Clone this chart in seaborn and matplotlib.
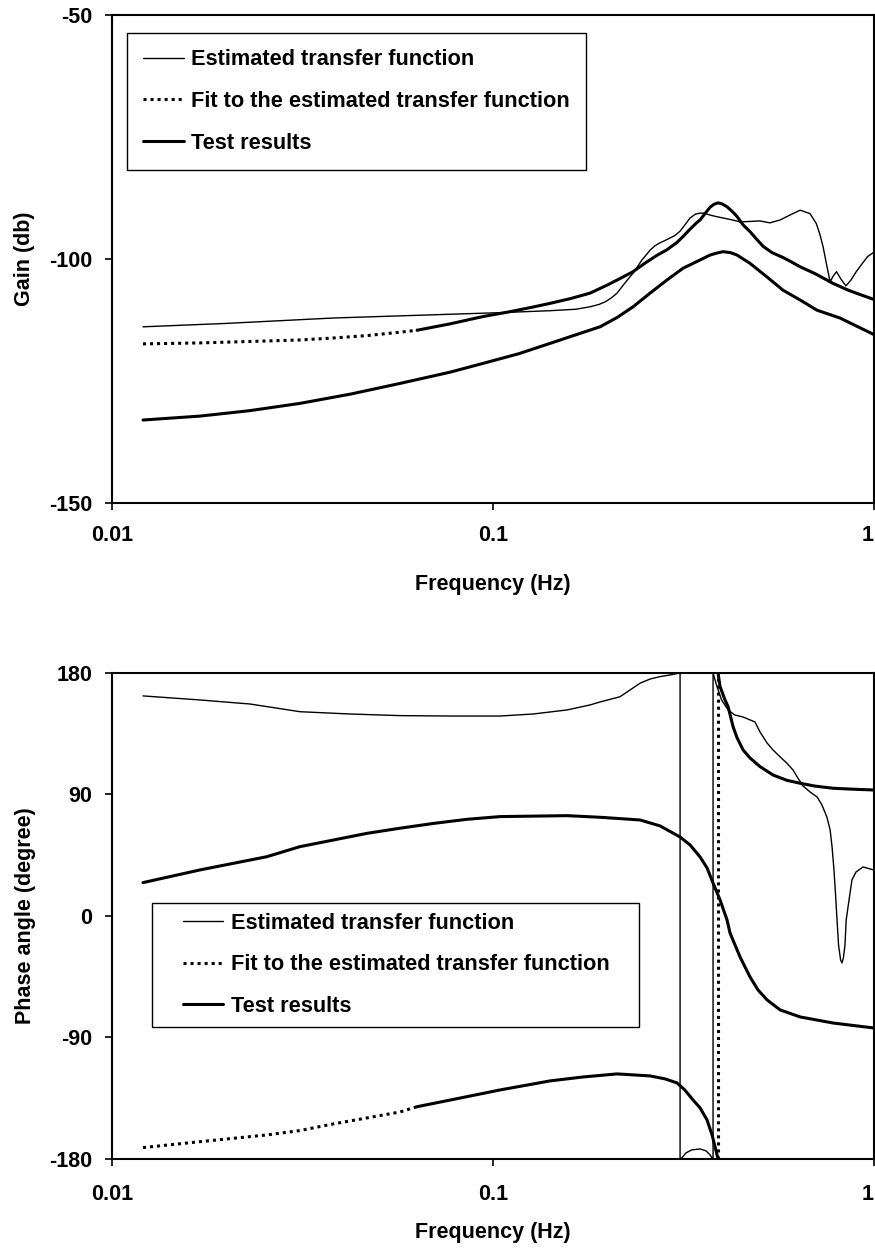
import matplotlib
matplotlib.use("Agg")
import matplotlib.pyplot as plt
from matplotlib.lines import Line2D
from matplotlib.legend_handler import HandlerLine2D
import seaborn as sns

# ---------------- Gain (dB) ----------------
gain_est_freq = [0.01206, 0.0200, 0.0380, 0.0600, 0.1043, 0.1411, 0.1650, 0.1797,
                 0.1900, 0.1980, 0.2050, 0.2116, 0.2220, 0.2331, 0.2460, 0.2583,
                 0.2660, 0.2740, 0.2830, 0.2915, 0.3000, 0.3097, 0.3190, 0.3289,
                 0.3400, 0.3495, 0.3580, 0.3712, 0.3850, 0.4016, 0.4250, 0.4450,
                 0.4750, 0.5020, 0.5330, 0.5670, 0.6050, 0.6400, 0.6790, 0.7050,
                 0.7200, 0.7350, 0.7500, 0.7670, 0.7800, 0.7970, 0.8200, 0.8440,
                 0.8700, 0.8980, 0.9300, 0.9620, 1.0]
gain_est_db = [-113.9, -113.2, -112.1, -111.6, -111.0, -110.6, -110.3, -109.8,
               -109.3, -108.7, -107.9, -107.0, -104.9, -102.9, -100.2, -98.2,
               -97.3, -96.7, -96.2, -95.7, -95.2, -94.3, -93.0, -91.6,
               -90.8, -90.6, -90.6, -91.0, -91.3, -91.6, -92.0, -92.4,
               -92.3, -92.2, -92.6, -92.0, -90.9, -90.0, -90.7, -92.7,
               -94.8, -97.5, -101.0, -104.7, -103.6, -102.6, -104.2, -105.5,
               -104.3, -102.6, -101.0, -99.5, -98.6]

gain_fit_freq = [0.01206, 0.0170, 0.0255, 0.0311, 0.0380, 0.0467, 0.0570, 0.0632,
                 0.0771, 0.0941, 0.1108, 0.1264, 0.1411, 0.1600, 0.1797, 0.2000,
                 0.2155, 0.2331, 0.2500, 0.2700, 0.2862, 0.3041, 0.3153, 0.3289,
                 0.3420, 0.3495, 0.3600, 0.3712, 0.3800, 0.3896, 0.3990, 0.4114,
                 0.4250, 0.4370, 0.4532, 0.4727, 0.4900, 0.5114, 0.5400, 0.5770,
                 0.6100, 0.6396, 0.7000, 0.7805, 0.8500, 0.9200, 1.0]
gain_fit_db = [-117.4, -117.2, -116.8, -116.6, -116.2, -115.7, -115.0, -114.6,
               -113.3, -111.8, -110.8, -109.9, -109.1, -108.1, -107.0, -105.3,
               -104.0, -102.6, -100.9, -99.2, -98.1, -96.6, -95.4, -93.9,
               -92.6, -92.0, -90.7, -89.4, -88.8, -88.5, -88.7, -89.3,
               -90.3, -91.3, -93.0, -94.4, -95.8, -97.4, -98.7, -99.7,
               -100.7, -101.6, -103.0, -105.0, -106.3, -107.3, -108.3]

gain_test_freq = [0.01206, 0.0170, 0.0229, 0.0311, 0.0422, 0.0570, 0.0771, 0.0941,
                  0.1170, 0.1411, 0.1640, 0.1909, 0.2116, 0.2331, 0.2583, 0.2862,
                  0.3153, 0.3350, 0.3495, 0.3712, 0.3860, 0.4016, 0.4200, 0.4370,
                  0.4727, 0.5240, 0.5770, 0.6396, 0.7087, 0.8140, 0.9761, 1.0]
gain_test_db = [-133.0, -132.2, -131.1, -129.6, -127.7, -125.5, -123.2, -121.4,
                -119.4, -117.3, -115.6, -113.9, -112.0, -109.8, -107.0, -104.3,
                -101.9, -100.9, -100.2, -99.2, -98.8, -98.5, -98.7, -99.2,
                -100.9, -103.7, -106.4, -108.4, -110.5, -112.1, -115.1, -115.5]

# ---------------- Phase (degree) ----------------
phase_est_freq = [0.01206, 0.01702, 0.02302, 0.03114, 0.04213, 0.0570, 0.07713, 0.1043,
                  0.1274, 0.1564, 0.1797, 0.1909, 0.2155, 0.2289, 0.2431, 0.2583,
                  0.2744, 0.2915, 0.3097, 0.3097, 0.3134, 0.3209, 0.3323, 0.3495,
                  0.3622, 0.3712, 0.3757, 0.3780, 0.3780, 0.3860, 0.3980, 0.4140,
                  0.4306, 0.4530, 0.4870, 0.5020, 0.5240, 0.5430, 0.5670, 0.5900,
                  0.6130, 0.6310, 0.6510, 0.6790, 0.7090, 0.7300, 0.7520, 0.7670,
                  0.7760, 0.7850, 0.7920, 0.7996, 0.8070, 0.8170, 0.8240, 0.8310,
                  0.8390, 0.8450, 0.8600, 0.8750, 0.8970, 0.9360, 1.0]
phase_est_deg = [163, 160, 157, 151.3, 149.6, 148.4, 148.1, 148.1,
                 149.6, 152.6, 156.3, 158.5, 162.4, 167.4, 172.4, 175.5,
                 177.3, 178.5, 180, -180, -179, -175.5, -173.3, -172.6,
                 -174, -177, -179.3, -180, 180, 171, 160, 152.6,
                 148.9, 147.4, 143.7, 136.3, 128.1, 123, 117.8, 113.3,
                 108.1, 102.2, 96.3, 91.9, 88.1, 82.2, 73.3, 63.7,
                 51.1, 34, 17, -3, -21.5, -32.6, -34.8, -31,
                 -21.5, -3, 12, 26.7, 32.6, 36.3, 34]

phase_fit_freq = [0.01206, 0.01702, 0.0255, 0.0311, 0.0380, 0.0467, 0.0570, 0.0632,
                  0.0771, 0.1043, 0.1411, 0.1720, 0.2116, 0.2583, 0.2830, 0.3041,
                  0.3187, 0.3349, 0.3495, 0.3645, 0.3757, 0.3826, 0.3896, 0.3896,
                  0.3943, 0.4063, 0.4140, 0.4266, 0.4370, 0.4532, 0.4727, 0.5022,
                  0.5432, 0.5900, 0.6396, 0.7000, 0.7805, 0.8800, 1.0]
phase_fit_deg = [-171.6, -167.2, -162.2, -159, -154.1, -149.6, -145.2, -141.3,
                 -136.4, -128.9, -122.2, -119.3, -117, -118.5, -120.7, -123.7,
                 -128.9, -136.3, -142.2, -151.1, -162.2, -171, -180, 180,
                 170, 160, 155, 140.2, 132, 123, 117, 110.6,
                 104.4, 100.5, 98.3, 96.2, 94.6, 93.9, 93.3]

phase_test_freq = [0.01206, 0.01702, 0.0255, 0.0311, 0.0467, 0.0570, 0.0700, 0.0855,
                   0.1043, 0.1564, 0.1909, 0.2431, 0.2744, 0.3097, 0.3290, 0.3495,
                   0.3645, 0.3780, 0.3943, 0.4114, 0.4188, 0.4450, 0.4727, 0.4960,
                   0.5240, 0.5670, 0.6396, 0.7805, 1.0]
phase_test_deg = [24.7, 34.1, 43.9, 51.3, 61.2, 65, 68.6, 71.6,
                  73.6, 74.3, 73.1, 71.1, 66.7, 58.5, 52.6, 43.7,
                  35.6, 24.4, 11.9, -3, -12.6, -30.4, -45.2, -54.8,
                  -62.2, -69.6, -74.8, -79.3, -83]

series_labels = ["Estimated transfer function",
                 "Fit to the estimated transfer function",
                 "Test results"]

# ---------------- styling ----------------
FS = 15.5
sns.set_theme(style="ticks")
plt.rcParams.update({
    "font.family": ["Liberation Sans", "DejaVu Sans"],
    "font.weight": "bold",
    "font.size": FS,
    "text.color": "black",
    "axes.labelcolor": "black",
    "axes.labelweight": "bold",
    "axes.labelsize": FS,
    "xtick.labelsize": FS,
    "ytick.labelsize": FS,
    "legend.fontsize": 15.7,
    "axes.linewidth": 1.5,
    "axes.edgecolor": "black",
    "xtick.color": "black",
    "ytick.color": "black",
    "xtick.major.width": 1.2,
    "ytick.major.width": 1.2,
    "xtick.major.size": 5,
    "ytick.major.size": 5,
    "ytick.major.pad": 9,
})

THIN = 1.0
THICK = 2.2
DOTS = (0, (1, 1.3))
FIT_SOLID_FROM = 0.064   # the fit trace reads as solid above this frequency


def draw_fit(ax, freq, vals):
    """Fit trace: dotted on the sparse low-frequency part and on wrap jumps,
    solid elsewhere."""
    kinds = []
    for i in range(len(freq) - 1):
        kinds.append(freq[i + 1] <= FIT_SOLID_FROM or freq[i + 1] == freq[i])
    start = 0
    for i in range(1, len(kinds) + 1):
        if i == len(kinds) or kinds[i] != kinds[start]:
            ls = DOTS if kinds[start] else "-"
            sns.lineplot(x=freq[start:i + 1], y=vals[start:i + 1], ax=ax,
                         color="black", lw=THICK, linestyle=ls,
                         estimator=None, sort=False, legend=False)
            start = i


def draw_line(ax, freq, vals, lw):
    sns.lineplot(x=freq, y=vals, ax=ax, color="black", lw=lw,
                 estimator=None, sort=False, legend=False)


def legend_handles():
    return [Line2D([], [], color="black", lw=THIN),
            Line2D([], [], color="black", lw=THICK, linestyle=DOTS),
            Line2D([], [], color="black", lw=THICK)]


def style_axes(ax, tick_pad, label_pad):
    ax.set_xscale("log")
    ax.set_xlim(0.01, 1)
    ax.set_xticks([0.01, 0.1, 1])
    ax.set_xticklabels(["0.01", "0.1", "1"])
    ax.minorticks_off()
    ax.tick_params(axis="x", pad=tick_pad)
    ax.get_xticklabels()[-1].set_horizontalalignment("right")
    for s in ax.spines.values():
        s.set_visible(True)
        s.set_color("black")
        s.set_linewidth(1.5)
    ax.set_xlabel("Frequency (Hz)", labelpad=label_pad)


def add_legend(ax, anchor, pad, lead=0.0, expand=False):
    handler = HandlerLine2D(xpad=lead)
    leg = ax.legend(legend_handles(), series_labels, loc="upper left",
                    bbox_to_anchor=anchor, borderaxespad=0,
                    mode="expand" if expand else None,
                    frameon=True, fancybox=False, shadow=False,
                    edgecolor="black", framealpha=1,
                    handlelength=1.85 + lead, handletextpad=0.35,
                    labelspacing=0.95, borderpad=pad,
                    handler_map={Line2D: handler})
    leg.get_frame().set_linewidth(1.0)


fig = plt.figure(figsize=(8.75, 12.49), dpi=100)
ax1 = fig.add_axes([0.128, 0.5973, 0.8709, 0.3907])
ax2 = fig.add_axes([0.128, 0.0721, 0.8709, 0.3891])

# Gain plot
draw_line(ax1, gain_est_freq, gain_est_db, THIN)
draw_fit(ax1, gain_fit_freq, gain_fit_db)
draw_line(ax1, gain_test_freq, gain_test_db, THICK)
style_axes(ax1, tick_pad=11, label_pad=20)
ax1.set_ylim(-150, -50)
ax1.set_yticks([-150, -100, -50])
ax1.set_yticklabels(["-150", "-100", "-50"])
ax1.set_ylabel("Gain (db)", labelpad=10)
add_legend(ax1, (0.0197, 0.963), 0.75)

# Phase plot
draw_line(ax2, phase_est_freq, phase_est_deg, THIN)
draw_fit(ax2, phase_fit_freq, phase_fit_deg)
draw_line(ax2, phase_test_freq, phase_test_deg, THICK)
style_axes(ax2, tick_pad=13, label_pad=12)
ax2.set_ylim(-180, 180)
ax2.set_yticks([-180, -90, 0, 90, 180])
ax2.set_yticklabels(["-180", "-90", "0", "90", "180"])
ax2.set_ylabel("Phase angle (degree)", labelpad=10)
add_legend(ax2, (0.0525, 0.0, 0.639, 0.527), 0.45, lead=0.95, expand=True)

fig.savefig("out.png", dpi=100, facecolor="white")
